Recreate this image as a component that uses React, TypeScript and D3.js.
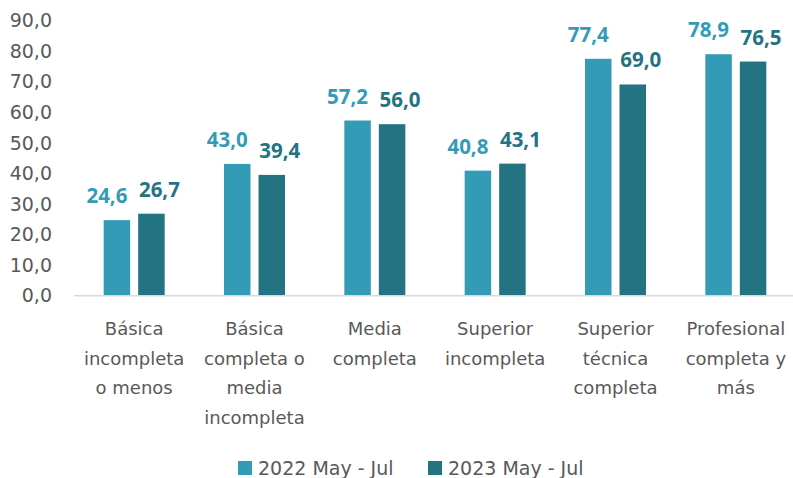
import React, { useRef, useEffect } from "react";
import * as d3 from "d3";

// categories (one array of lines per category label)
const categories = [
  "Básica incompleta o menos",
  "Básica completa o media incompleta",
  "Media completa",
  "Superior incompleta",
  "Superior técnica completa",
  "Profesional completa y más",
];
const categoryLines = [
  ["Básica", "incompleta", "o menos"],
  ["Básica", "completa o", "media", "incompleta"],
  ["Media", "completa"],
  ["Superior", "incompleta"],
  ["Superior", "técnica", "completa"],
  ["Profesional", "completa y", "más"],
];
const seriesNames = ["2022 May - Jul", "2023 May - Jul"];
const values2022 = [24.6, 43.0, 57.2, 40.8, 77.4, 78.9];
const values2023 = [26.7, 39.4, 56.0, 43.1, 69.0, 76.5];
const yTicks = [0, 10, 20, 30, 40, 50, 60, 70, 80, 90];

const colors = ["#349bb6", "#247383"];
const textGray = "#595959";
const labelDx = [-10, 8];

const W = 793;
const H = 478;

const App = () => {
  const svgRef = useRef<SVGSVGElement>(null);

  useEffect(() => {
    const svg = d3.select(svgRef.current);
    svg.selectAll("*").remove();

    const fmt = (v: number) => v.toFixed(1).replace(".", ",");

    // scales
    const x0 = d3.scaleBand().domain(categories).range([74, 796]).paddingInner(0).paddingOuter(0);
    const bw = x0.bandwidth();
    const x1 = d3.scaleBand().domain(seriesNames).range([(bw - 61) / 2, (bw + 61) / 2]).paddingInner(0.232);
    const y = d3.scaleLinear().domain([0, 90]).range([295.3, 20.3]);

    // y tick labels
    svg.append("g")
      .selectAll("text")
      .data(yTicks)
      .enter()
      .append("text")
      .attr("x", 52)
      .attr("y", d => y(d) + 7)
      .attr("text-anchor", "end")
      .attr("font-family", "DejaVu Sans")
      .attr("font-size", 19)
      .attr("fill", textGray)
      .text(d => fmt(d));

    // bars
    const series = [values2022, values2023];
    series.forEach((vals, si) => {
      const g = svg.append("g");
      g.selectAll("rect")
        .data(vals)
        .enter()
        .append("rect")
        .attr("x", (_, i) => (x0(categories[i]) as number) + (x1(seriesNames[si]) as number))
        .attr("width", x1.bandwidth())
        .attr("y", d => y(d))
        .attr("height", d => y(0) - y(d))
        .attr("fill", colors[si]);

      g.selectAll("text")
        .data(vals)
        .enter()
        .append("text")
        .attr("x", (_, i) => (x0(categories[i]) as number) + (x1(seriesNames[si]) as number) + x1.bandwidth() / 2 + labelDx[si])
        .attr("y", d => y(d) - 17)
        .attr("text-anchor", "middle")
        .attr("font-family", "Open Sans")
        .attr("font-weight", "bold")
        .attr("font-size", 20.5)
        .attr("fill", colors[si])
        .text(d => fmt(d));
    });

    // x axis line
    svg.append("line")
      .attr("x1", 74)
      .attr("x2", W)
      .attr("y1", y(0) + 0.5)
      .attr("y2", y(0) + 0.5)
      .attr("stroke", "#d9d9d9")
      .attr("stroke-width", 1.5);

    // category labels
    const cat = svg.append("g");
    categories.forEach((c, i) => {
      const t = cat.append("text")
        .attr("text-anchor", "middle")
        .attr("font-family", "DejaVu Sans")
        .attr("font-size", 18)
        .attr("fill", textGray);
      categoryLines[i].forEach((line, li) => {
        t.append("tspan")
          .attr("x", (x0(c) as number) + bw / 2)
          .attr("y", 335 + li * 29.5)
          .text(line);
      });
    });

    // legend
    const legendX = [238, 428];
    const lg = svg.append("g");
    seriesNames.forEach((s, i) => {
      lg.append("rect")
        .attr("x", legendX[i])
        .attr("y", 461)
        .attr("width", 14)
        .attr("height", 14)
        .attr("fill", colors[i]);
      lg.append("text")
        .attr("x", legendX[i] + 20)
        .attr("y", 475)
        .attr("font-family", "DejaVu Sans")
        .attr("font-size", 19)
        .attr("fill", textGray)
        .text(s);
    });
  }, []);

  return (
    <svg
      ref={svgRef}
      width={W}
      height={H}
      style={{ position: "absolute", left: 0, top: 0, background: "#fff" }}
    ></svg>
  );
};

export default App;
